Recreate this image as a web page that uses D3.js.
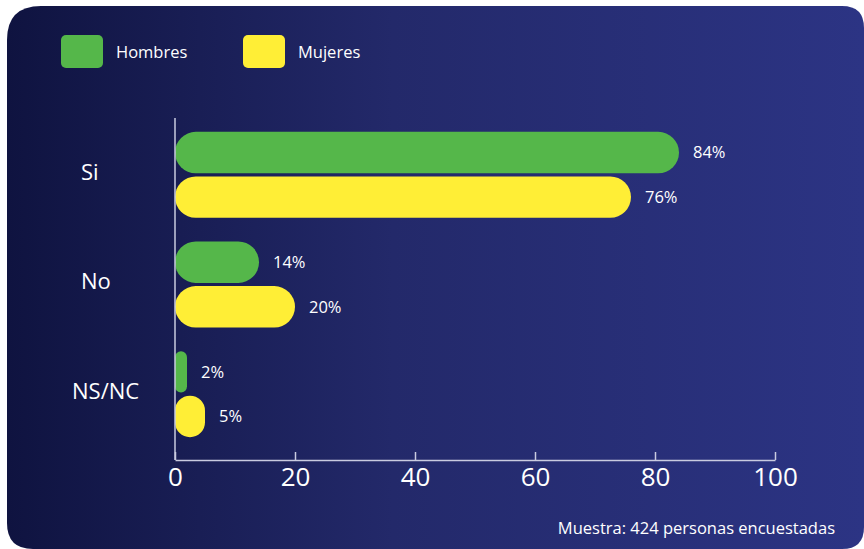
<!DOCTYPE html>
<html><head><meta charset="utf-8">
<script src="https://cdn.jsdelivr.net/npm/d3@7"></script>
<style>html,body{margin:0;padding:0;background:#fff;}svg{display:block;}</style>
</head><body>
<svg id="chart" width="864" height="549"></svg>
<script>
const categories = ["Si", "No", "NS/NC"];
const seriesNames = ["Hombres", "Mujeres"];
const hombres = [84, 14, 2];
const mujeres = [76, 20, 5];
const xTicks = [0, 20, 40, 60, 80, 100];
const footnote = "Muestra: 424 personas encuestadas";

const colors = {Hombres: "#55b74a", Mujeres: "#ffee36"};
const font = "'Open Sans', 'Noto Sans', sans-serif";
const svg = d3.select("#chart");

const defs = svg.append("defs");
const grad = defs.append("linearGradient").attr("id", "bg").attr("x1", "0").attr("x2", "1").attr("y1", "0").attr("y2", "0");
grad.append("stop").attr("offset", "0").attr("stop-color", "#0f1340");
grad.append("stop").attr("offset", "0.45").attr("stop-color", "#23296a");
grad.append("stop").attr("offset", "1").attr("stop-color", "#2c3484");

const L = 7, T = 6, R = 864, B = 549;
const rTL = 34, rTR = 22, rBL = 26, rBR = 22;
svg.append("path")
  .attr("d", `M${L+rTL},${T} L${R-rTR},${T} Q${R},${T} ${R},${T+rTR} L${R},${B-rBR} Q${R},${B} ${R-rBR},${B} L${L+rBL},${B} Q${L},${B} ${L},${B-rBL} L${L},${T+rTL} Q${L},${T} ${L+rTL},${T} Z`)
  .attr("fill", "url(#bg)");

const x = d3.scaleLinear().domain([0, 100]).range([175, 775]);
const y = d3.scaleBand().domain(categories).range([120, 449]).paddingInner(0).paddingOuter(0);
const yIn = d3.scaleBand().domain(seriesNames).range([0, 86]).paddingInner(0.07);

const data = categories.map((c, i) => ({cat: c, values: [
  {s: "Hombres", v: hombres[i]}, {s: "Mujeres", v: mujeres[i]}]}));

const groups = svg.append("g").selectAll("g").data(data).join("g")
  .attr("transform", d => `translate(0,${y(d.cat) + (y.bandwidth() - 86) / 2})`);

const rad = d => Math.min(yIn.bandwidth() / 2, (x(d.v) - x(0)) / 2);
groups.selectAll("rect").data(d => d.values).join("rect")
  .attr("x", x(0))
  .attr("y", d => yIn(d.s))
  .attr("width", d => x(d.v) - x(0))
  .attr("height", yIn.bandwidth())
  .attr("rx", rad)
  .attr("ry", rad)
  .attr("fill", d => colors[d.s]);

groups.selectAll("text.val").data(d => d.values).join("text")
  .attr("class", "val")
  .attr("x", d => x(d.v) + 14)
  .attr("y", d => yIn(d.s) + yIn.bandwidth() / 2)
  .attr("dy", "0.35em")
  .attr("fill", "#fff")
  .attr("font-family", font)
  .attr("font-size", 16.5)
  .text(d => d.v + "%");

svg.append("g").selectAll("text").data(categories).join("text")
  .attr("x", (d, i) => i === 2 ? 72 : 81)
  .attr("y", d => y(d) + y.bandwidth() / 2 - 3)
  .attr("dy", "0.35em")
  .attr("fill", "#fff")
  .attr("font-family", font)
  .attr("font-size", 22)
  .text(d => d);

const axisColor = "#c9cbe0";
svg.append("line").attr("x1", x(0)).attr("x2", x(0)).attr("y1", 118).attr("y2", 460)
  .attr("stroke", axisColor).attr("stroke-width", 1.5);
const xAxis = svg.append("g").attr("transform", "translate(0,460)")
  .call(d3.axisBottom(x).tickValues(xTicks).tickSizeInner(-8).tickSizeOuter(0).tickPadding(8));
xAxis.select(".domain").attr("stroke", axisColor).attr("stroke-width", 1.5);
xAxis.selectAll(".tick line").attr("stroke", axisColor).attr("stroke-width", 1.5);
xAxis.selectAll(".tick text").attr("fill", "#fff").attr("font-family", font).attr("font-size", 26);

const leg = svg.append("g").selectAll("g").data(seriesNames).join("g")
  .attr("transform", (d, i) => `translate(${61 + i * 182},35)`);
leg.append("rect").attr("width", 42).attr("height", 33).attr("rx", 5).attr("fill", d => colors[d]);
leg.append("text").attr("x", 55).attr("y", 17).attr("dy", "0.35em")
  .attr("fill", "#fff").attr("font-family", font).attr("font-size", 16.5).text(d => d);

svg.append("text").attr("x", 835).attr("y", 528).attr("dy", "0.35em").attr("text-anchor", "end")
  .attr("fill", "#fff").attr("font-family", font).attr("font-size", 16.5).text(footnote);
</script>
</body></html>
